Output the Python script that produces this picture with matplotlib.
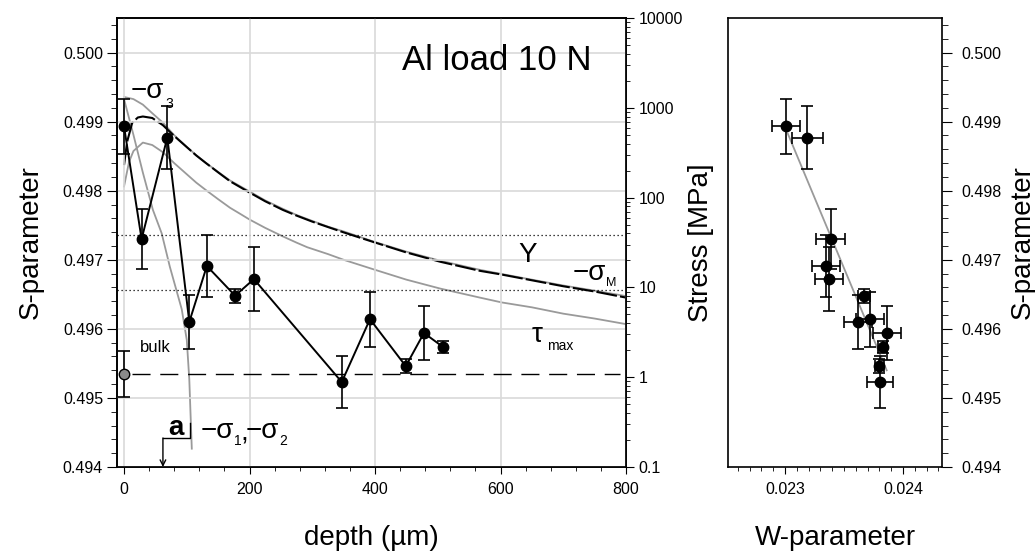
import matplotlib
matplotlib.use('Agg')
import matplotlib.pyplot as plt
from matplotlib.ticker import MultipleLocator, FixedLocator, LogLocator, FuncFormatter, NullFormatter

plt.rcParams['font.family'] = ['Liberation Sans', 'DejaVu Sans']

# ---------------- data ----------------
depth = [0, 28, 69, 104, 132, 177, 207, 347, 392, 449, 478, 508]
s_param = [0.49893, 0.49730, 0.49877, 0.49610, 0.49691, 0.49648, 0.49672,
           0.49523, 0.49614, 0.49546, 0.49594, 0.49574]
s_err = [0.00040, 0.00043, 0.00046, 0.00039, 0.00045, 0.00010, 0.00046,
         0.00037, 0.00040, 0.00010, 0.00039, 0.00009]
w_param = [0.023006, 0.023387, 0.023189, 0.023621, 0.023345, 0.023672, 0.023375,
           0.023805, 0.023720, 0.023799, 0.023862, 0.023828]
w_err = [0.00012, 0.00012, 0.00013, 0.00012, 0.00012, 0.00005, 0.00012,
         0.00011, 0.00012, 0.00004, 0.00012, 0.00004]

bulk_depth = [0]
bulk_s = [0.49535]
bulk_err = [0.00033]
bulk_line_depth = [12, 790]

fit_w = [0.023023, 0.023862]
fit_s = [0.49883, 0.49540]

stress_levels = [38, 9.3]  # dotted reference levels (MPa)

sig3_depth = [0, 15, 30, 45, 62, 80, 100, 115, 130, 150, 169, 185, 200, 225, 253, 275, 300,
              325, 350, 400, 450, 504, 567, 602, 650, 700, 750, 800]
sig3 = [1320, 1250, 1085, 870, 683, 495, 367, 297, 245, 193, 155, 134, 117, 93, 75, 64, 55,
        47.5, 42, 32, 25, 19.8, 15.7, 14.1, 12.2, 10.5, 9.2, 8.0]

sigM_depth = [0, 5, 13, 22, 30, 45, 62, 80, 100, 115, 130, 150, 169, 185, 200, 225, 253, 275,
              300, 325, 350, 400, 450, 504, 567, 602, 650, 700, 750, 800]
sigM = [230, 420, 680, 780, 800, 770, 640, 485, 365, 295, 244, 191, 152, 131, 114, 91, 73, 63,
        54, 47, 41, 31.6, 24.5, 19.3, 15.3, 13.9, 12.0, 10.3, 9.0, 7.7]

tau_depth = [0, 8, 15, 30, 45, 62, 80, 100, 115, 130, 150, 169, 185, 200, 225, 253, 275, 292,
             325, 350, 400, 450, 504, 567, 602, 650, 700, 750, 800]
tau = [133, 250, 330, 410, 385, 320, 242, 182, 147, 122, 96, 77, 66, 57, 46, 37, 31.5, 28,
       23.5, 20.3, 15.7, 12.2, 9.7, 7.7, 6.8, 6.0, 5.1, 4.5, 3.9]

sigr_depth = [0, 15, 30, 46, 60, 73, 92, 100, 104, 108]
sigr = [1250, 500, 190, 73, 40, 17, 5.7, 2.6, 0.95, 0.16]

contact_radius = 62  # a (µm)

# ---------------- figure ----------------
W, H = 1035, 557
fig = plt.figure(figsize=(W / 100, H / 100), dpi=100)

def fx(px):
    return px / W

def fy(py):
    return 1 - py / H

L, R, T, B = 117, 626, 18, 467
ax = fig.add_axes([fx(L), fy(B), (R - L) / W, (B - T) / H])
ax2 = ax.twinx()
ax.set_zorder(ax2.get_zorder() + 1)
ax.patch.set_visible(False)

grey = '#9a9a9a'
tick_fs = 11.5

# stress curves
ax2.set_yscale('log')
ax2.set_ylim(0.1, 10000)
ax2.plot(sig3_depth, sig3, color=grey, lw=1.3)
ax2.plot(sigr_depth, sigr, color=grey, lw=1.3)
ax2.plot(tau_depth, tau, color=grey, lw=1.3)
ax2.plot(sigM_depth, sigM, color='black', lw=1.5, dashes=(10, 1.5))
for lev in stress_levels:
    ax2.axhline(lev, color='black', lw=0.9, ls=(0, (1, 2.2)))

# S-parameter data
ax.set_xlim(-11.2, 800)
ax.set_ylim(0.494, 0.5005)
ax.grid(True, which='major', color='#d9d9d9', lw=1.2)
ax.plot(bulk_line_depth, bulk_s * 2, color='black', lw=1.0, dashes=(13, 7))
ax.errorbar(depth, s_param, yerr=s_err, fmt='o-', color='black', ms=7.5,
            lw=1.4, elinewidth=1.2, capsize=4.5, capthick=1.2, zorder=5)
ax.errorbar(bulk_depth, bulk_s, yerr=bulk_err, fmt='o', mfc='#8a8a8a', mec='black',
            ms=7.5, ecolor='black', elinewidth=1.2, capsize=4.5, capthick=1.2, zorder=5)

# "a" annotation
ax.plot([105, 105, contact_radius], [0.49464, 0.49442, 0.49442], color='black', lw=1.0)
ax.annotate('', xy=(contact_radius, 0.494), xytext=(contact_radius, 0.49442),
            arrowprops=dict(arrowstyle='->', lw=1.0, color='black', mutation_scale=10,
                            shrinkA=0, shrinkB=0))

# ticks main
ax.xaxis.set_major_locator(MultipleLocator(200))
ax.xaxis.set_minor_locator(MultipleLocator(40))
ax.yaxis.set_major_locator(MultipleLocator(0.001))
ax.yaxis.set_minor_locator(MultipleLocator(0.0002))
ax.yaxis.set_major_formatter(FuncFormatter(lambda v, p: '%.3f' % v))
ax.tick_params(axis='both', which='both', direction='out', labelsize=tick_fs,
               top=False, right=False)
ax.tick_params(axis='y', which='major', length=7, pad=3)
ax.tick_params(axis='y', which='minor', length=4)
ax.tick_params(axis='x', which='major', length=5, pad=6)
ax.tick_params(axis='x', which='minor', length=3)
ax.set_ylabel('S-parameter', fontsize=20, labelpad=14)
ax.set_xlabel('depth (\u00b5m)', fontsize=20, labelpad=20)

ax2.yaxis.set_major_locator(LogLocator(base=10, numticks=10))
ax2.yaxis.set_minor_locator(LogLocator(base=10, subs=range(2, 10), numticks=50))
ax2.yaxis.set_major_formatter(FuncFormatter(lambda v, p: '%g' % v))
ax2.yaxis.set_minor_formatter(NullFormatter())
ax2.tick_params(axis='y', which='both', direction='out', labelsize=tick_fs)
ax2.tick_params(axis='y', which='major', length=6, pad=3)
ax2.tick_params(axis='y', which='minor', length=3)
ax2.set_ylabel('Stress [MPa]', fontsize=20, labelpad=4)

for sp in list(ax.spines.values()) + list(ax2.spines.values()):
    sp.set_linewidth(1.2)

# texts
fig.text(fx(402), fy(70), 'Al load 10 N', fontsize=25, va='baseline')
fig.text(fx(131), fy(91), '\u2212\u03c3', fontsize=20, va='center')
fig.text(fx(165), fy(104), '3', fontsize=10, va='center')
fig.text(fx(518), fy(255), 'Y', fontsize=20, va='center')
fig.text(fx(573), fy(273), '\u2212\u03c3', fontsize=20, va='center')
fig.text(fx(606), fy(283), 'M', fontsize=9, va='center')
fig.text(fx(532), fy(335), '\u03c4', fontsize=20, va='center')
fig.text(fx(547), fy(346), 'max', fontsize=10, va='center')
fig.text(fx(140), fy(347), 'bulk', fontsize=12, va='center')
fig.text(fx(168), fy(428), 'a', fontsize=20, fontweight='bold', va='center')
fig.text(fx(201), fy(431), '\u2212\u03c3', fontsize=20, va='center')
fig.text(fx(234), fy(441), '1', fontsize=10, va='center')
fig.text(fx(240), fy(434), ',', fontsize=20, va='center')
fig.text(fx(246), fy(431), '\u2212\u03c3', fontsize=20, va='center')
fig.text(fx(279), fy(441), '2', fontsize=10, va='center')

# ---------------- right panel ----------------
L3, R3 = 728, 942
ax3 = fig.add_axes([fx(L3), fy(B), (R3 - L3) / W, (B - T) / H])
ax3.set_xlim(0.022517, 0.024331)
ax3.set_ylim(0.494, 0.5005)
ax3.plot(fit_w, fit_s, color=grey, lw=1.3, zorder=2)
ax3.errorbar(w_param, s_param, xerr=w_err, yerr=s_err, fmt='o', color='black', ms=7.5,
             elinewidth=1.2, capsize=4.5, capthick=1.2, zorder=5)
ax3.xaxis.set_major_locator(FixedLocator([0.023, 0.024]))
ax3.xaxis.set_minor_locator(MultipleLocator(0.0001))
ax3.xaxis.set_major_formatter(FuncFormatter(lambda v, p: '%.3f' % v))
ax3.yaxis.set_major_locator(MultipleLocator(0.001))
ax3.yaxis.set_minor_locator(MultipleLocator(0.0002))
ax3.yaxis.set_major_formatter(FuncFormatter(lambda v, p: '%.3f' % v))
ax3.yaxis.tick_right()
ax3.yaxis.set_label_position('right')
ax3.tick_params(axis='both', which='both', direction='out', labelsize=tick_fs,
                left=False, top=False)
ax3.tick_params(axis='y', which='major', length=7, pad=7)
ax3.tick_params(axis='y', which='minor', length=4)
ax3.tick_params(axis='x', which='major', length=5, pad=6)
ax3.tick_params(axis='x', which='minor', length=3)
ax3.set_ylabel('S-parameter', fontsize=20, labelpad=6)
ax3.set_xlabel('W-parameter', fontsize=20, labelpad=20)
for sp in ax3.spines.values():
    sp.set_linewidth(1.2)

fig.savefig('out.png', dpi=100)
